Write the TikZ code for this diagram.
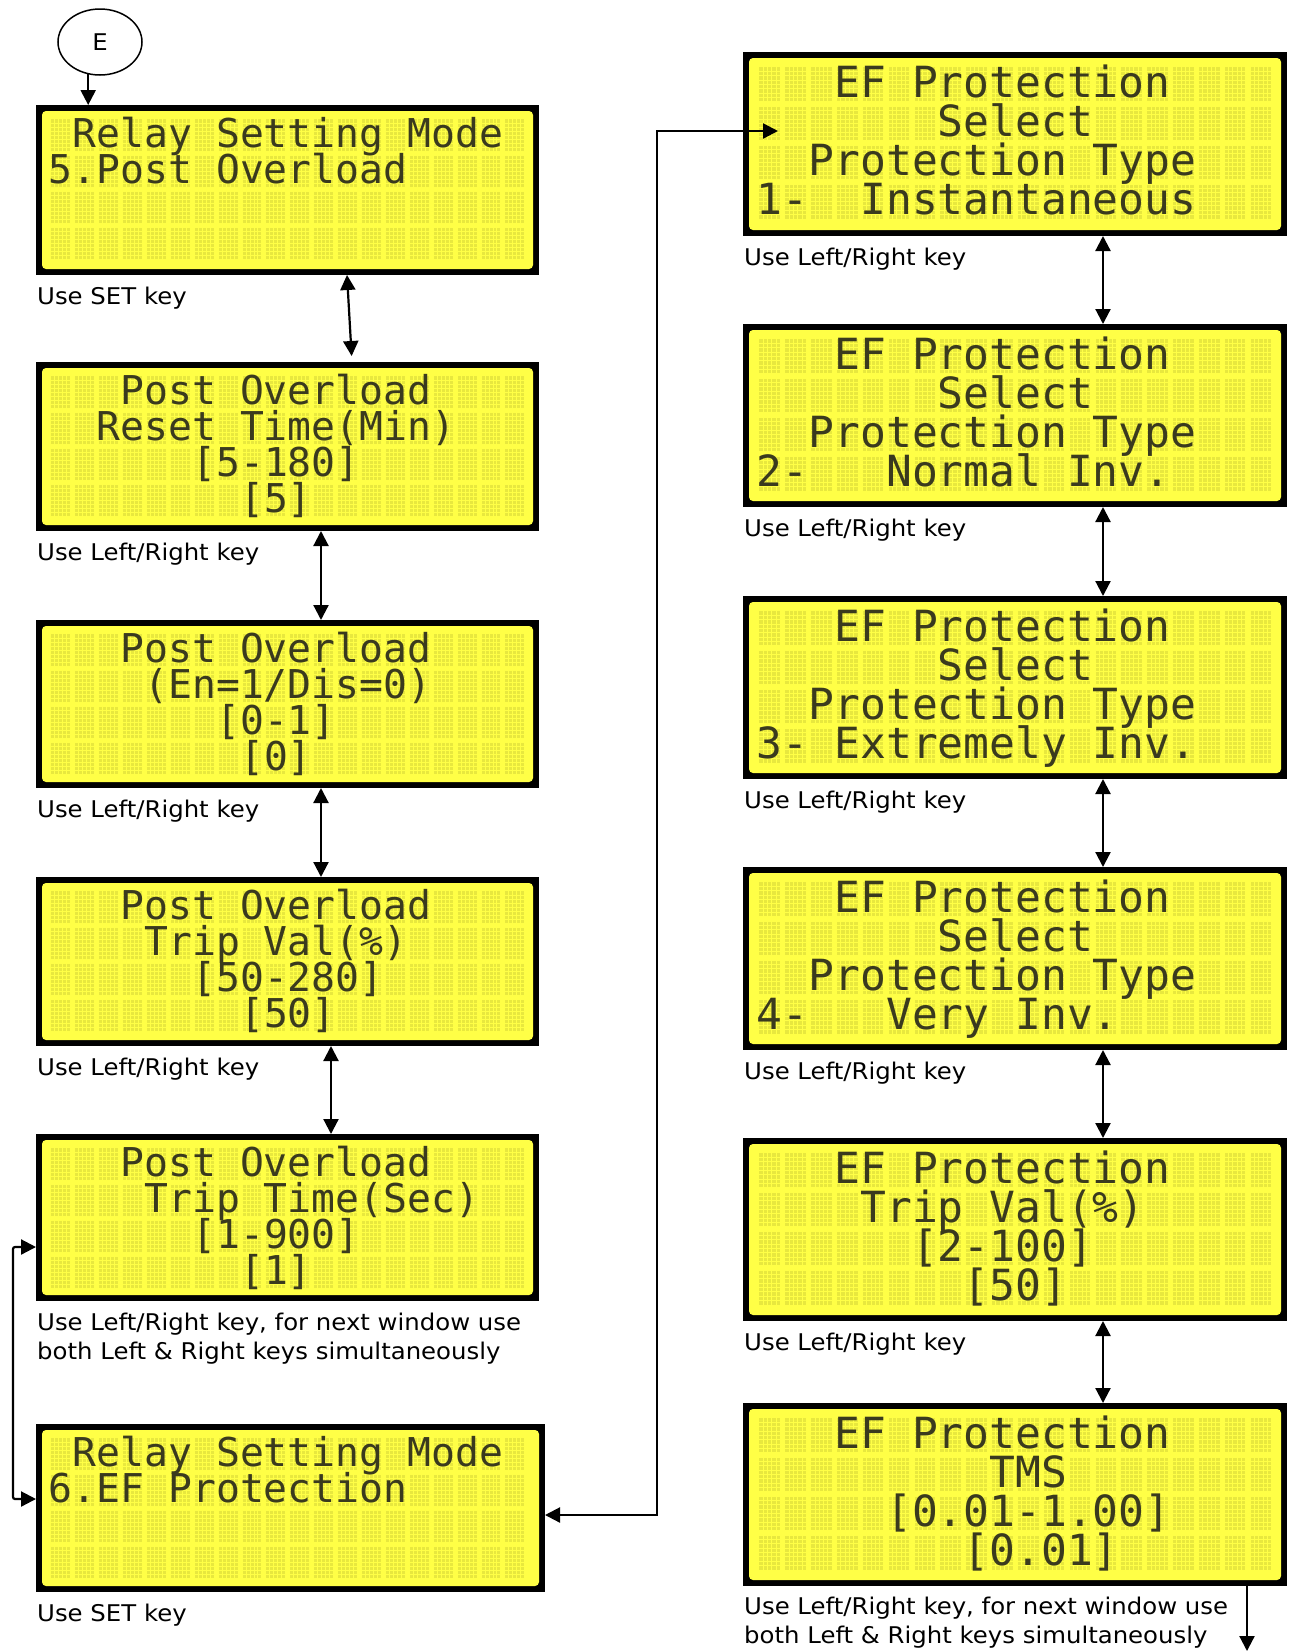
\documentclass[tikz,border=0pt]{standalone}
\usepackage{fontspec}
\usetikzlibrary{calc,shapes.geometric,arrows.meta}
\newfontfamily\lcdfont{DejaVu Sans Mono}
\newfontfamily\lblfont[FakeStretch=1.06]{DejaVu Sans}
\definecolor{lcdbg}{RGB}{255,255,70}
\definecolor{lcdcell}{RGB}{232,232,62}
\definecolor{lcdink}{RGB}{58,58,30}
\frenchspacing
\tikzset{
  lcdframe/.style={rectangle, fill=black, inner sep=0pt, outer sep=0pt, anchor=north west},
  lcdgrid/.style={draw=lcdbg, line width=0.7pt},
  lcdtxt/.style={inner sep=0pt, anchor=base west, text=lcdink},
  lbl/.style={inner sep=0pt, anchor=base west, align=left, font=\lblfont\fontsize{23}{29}\selectfont},
  con/.style={line width=2.2pt, {Triangle[length=15pt,width=15pt]}-{Triangle[length=15pt,width=15pt]}},
  con1/.style={line width=2.2pt, -{Triangle[length=15pt,width=15pt]}},
}
\newcommand\lcdbox[6]{%
  \node[lcdframe, minimum width=#4pt, minimum height=#5pt] (#1) at (#2,#3) {};
  \fill[lcdbg, rounded corners=4pt] ($(#1.north west)+(6,6)$) rectangle ($(#1.south east)+(-6,-6)$);
  \foreach \rr in {0,...,3}{\foreach \cc in {0,...,19}{%
    \fill[lcdcell] ($(#1.north west)+({#6*(14.7+\cc*23.9)},{#6*(14+\rr*36)})$) rectangle ++({#6*19.9},{#6*32});}}
  \foreach \jj in {1,...,119}{\draw[lcdgrid] ($(#1.north west)+({#6*(14.7+\jj*23.9/6)},{#6*14})$) -- ++(0,{#6*140});}
  \foreach \kk in {1,...,34}{\draw[lcdgrid] ($(#1.north west)+({#6*14.7},{#6*(14+\kk*4)})$) -- ++({#6*474},0);}
  \expandafter\xdef\csname lcdS#1\endcsname{#6}%
}
\newcommand\lcdrow[4]{%
  \pgfmathsetmacro\lcds{\csname lcdS#1\endcsname}%
  \pgfmathsetmacro\lcdfs{\lcds*39.7}%
  \node[lcdtxt, font=\lcdfont\fontsize{\lcdfs}{\lcdfs}\selectfont] (#1r#2) at ($(#1.north west)+({\lcds*(14.7+(#3-1)*23.9-2)},{\lcds*(14+(#2-1)*36+28)})$) {#4};
}
\begin{document}
\begin{tikzpicture}[x=1pt,y=-1pt]
\fill[white] (0,0) rectangle (1290,1652);
\useasboundingbox (0,0) rectangle (1290,1652);

% left column
\lcdbox{B1}{36}{105}{503}{170}{1}
\lcdrow{B1}{1}{2}{Relay Setting Mode}
\lcdrow{B1}{2}{1}{5.Post Overload}

\lcdbox{B2}{36}{362}{503}{169}{1}
\lcdrow{B2}{1}{4}{Post Overload}
\lcdrow{B2}{2}{3}{Reset Time(Min)}
\lcdrow{B2}{3}{7}{[5-180]}
\lcdrow{B2}{4}{9}{[5]}

\lcdbox{B3}{36}{620}{503}{168}{1}
\lcdrow{B3}{1}{4}{Post Overload}
\lcdrow{B3}{2}{5}{(En=1/Dis=0)}
\lcdrow{B3}{3}{8}{[0-1]}
\lcdrow{B3}{4}{9}{[0]}

\lcdbox{B4}{36}{877}{503}{169}{1}
\lcdrow{B4}{1}{4}{Post Overload}
\lcdrow{B4}{2}{5}{Trip Val(\%)}
\lcdrow{B4}{3}{7}{[50-280]}
\lcdrow{B4}{4}{9}{[50]}

\lcdbox{B5}{36}{1134}{503}{167}{1}
\lcdrow{B5}{1}{4}{Post Overload}
\lcdrow{B5}{2}{5}{Trip Time(Sec)}
\lcdrow{B5}{3}{7}{[1-900]}
\lcdrow{B5}{4}{9}{[1]}

\lcdbox{B6}{36}{1424}{509}{168}{1}
\lcdrow{B6}{1}{2}{Relay Setting Mode}
\lcdrow{B6}{2}{1}{6.EF Protection}

% right column
\lcdbox{R1}{743}{52}{544}{184}{1.0815}
\lcdrow{R1}{1}{4}{EF Protection}
\lcdrow{R1}{2}{8}{Select}
\lcdrow{R1}{3}{3}{Protection Type}
\lcdrow{R1}{4}{1}{1-~~Instantaneous}

\lcdbox{R2}{743}{324}{544}{183}{1.0815}
\lcdrow{R2}{1}{4}{EF Protection}
\lcdrow{R2}{2}{8}{Select}
\lcdrow{R2}{3}{3}{Protection Type}
\lcdrow{R2}{4}{1}{2-~~~Normal Inv.}

\lcdbox{R3}{743}{596}{544}{183}{1.0815}
\lcdrow{R3}{1}{4}{EF Protection}
\lcdrow{R3}{2}{8}{Select}
\lcdrow{R3}{3}{3}{Protection Type}
\lcdrow{R3}{4}{1}{3- Extremely Inv.}

\lcdbox{R4}{743}{867}{544}{183}{1.0815}
\lcdrow{R4}{1}{4}{EF Protection}
\lcdrow{R4}{2}{8}{Select}
\lcdrow{R4}{3}{3}{Protection Type}
\lcdrow{R4}{4}{1}{4-~~~Very Inv.}

\lcdbox{R5}{743}{1138}{544}{183}{1.0815}
\lcdrow{R5}{1}{4}{EF Protection}
\lcdrow{R5}{2}{5}{Trip Val(\%)}
\lcdrow{R5}{3}{7}{[2-100]}
\lcdrow{R5}{4}{9}{[50]}

\lcdbox{R6}{743}{1403}{544}{183}{1.0815}
\lcdrow{R6}{1}{4}{EF Protection}
\lcdrow{R6}{2}{10}{TMS}
\lcdrow{R6}{3}{6}{[0.01-1.00]}
\lcdrow{R6}{4}{9}{[0.01]}

% labels
\node[lbl] (LB1) at ($(B1.south west)+(1,29)$) {Use SET key};
\node[lbl] (LB2) at ($(B2.south west)+(1,29)$) {Use Left/Right key};
\node[lbl] (LB3) at ($(B3.south west)+(1,29)$) {Use Left/Right key};
\node[lbl] (LB4) at ($(B4.south west)+(1,29)$) {Use Left/Right key};
\node[lbl] (LB5) at ($(B5.south west)+(1,58)$) {Use Left/Right key, for next window use\\both Left \& Right keys simultaneously};
\node[lbl] (LB6) at ($(B6.south west)+(1,29)$) {Use SET key};
\node[lbl] (LR1) at ($(R1.south west)+(1,29)$) {Use Left/Right key};
\node[lbl] (LR2) at ($(R2.south west)+(1,29)$) {Use Left/Right key};
\node[lbl] (LR3) at ($(R3.south west)+(1,29)$) {Use Left/Right key};
\node[lbl] (LR4) at ($(R4.south west)+(1,29)$) {Use Left/Right key};
\node[lbl] (LR5) at ($(R5.south west)+(1,29)$) {Use Left/Right key};
\node[lbl] (LR6) at ($(R6.south west)+(1,57)$) {Use Left/Right key, for next window use\\both Left \& Right keys simultaneously};

% start node
\node[draw, ellipse, line width=1.5pt, minimum width=84pt, minimum height=66pt, inner sep=0pt, font=\lblfont\fontsize{23}{26}\selectfont] (E) at (100,42) {E};

% connectors
\draw[con1] (E.250) -- (E.250 |- B1.north);
\draw[con, shorten >=6pt] ($(B1.south west)+(311,0)$) -- ($(B2.north west)+(316,0)$);
\draw[con] ($(B2.south west)+(285,0)$) -- ($(B3.north west)+(285,0)$);
\draw[con] ($(B3.south west)+(285,0)$) -- ($(B4.north west)+(285,0)$);
\draw[con] ($(B4.south west)+(295,0)$) -- ($(B5.north west)+(295,0)$);
\draw[con, rounded corners=2pt] ($(B5.north west)+(0,113)$) -- ++(-23,0) |- ($(B6.north west)+(0,75)$);
\coordinate (bus) at (657,800);
\draw[con] ($(B6.north east)+(0,91)$) -| (bus) |- ($(R1.north west)+(35,79)$);
\draw[con] ($(R1.south west)+(360,0)$) -- ($(R2.north west)+(360,0)$);
\draw[con] ($(R2.south west)+(360,0)$) -- ($(R3.north west)+(360,0)$);
\draw[con] ($(R3.south west)+(360,0)$) -- ($(R4.north west)+(360,0)$);
\draw[con] ($(R4.south west)+(360,0)$) -- ($(R5.north west)+(360,0)$);
\draw[con] ($(R5.south west)+(360,0)$) -- ($(R6.north west)+(360,0)$);
\coordinate (out) at (1247,1651);
\draw[con1] ($(R6.south west)+(504,0)$) -- (out);
\end{tikzpicture}
\end{document}
